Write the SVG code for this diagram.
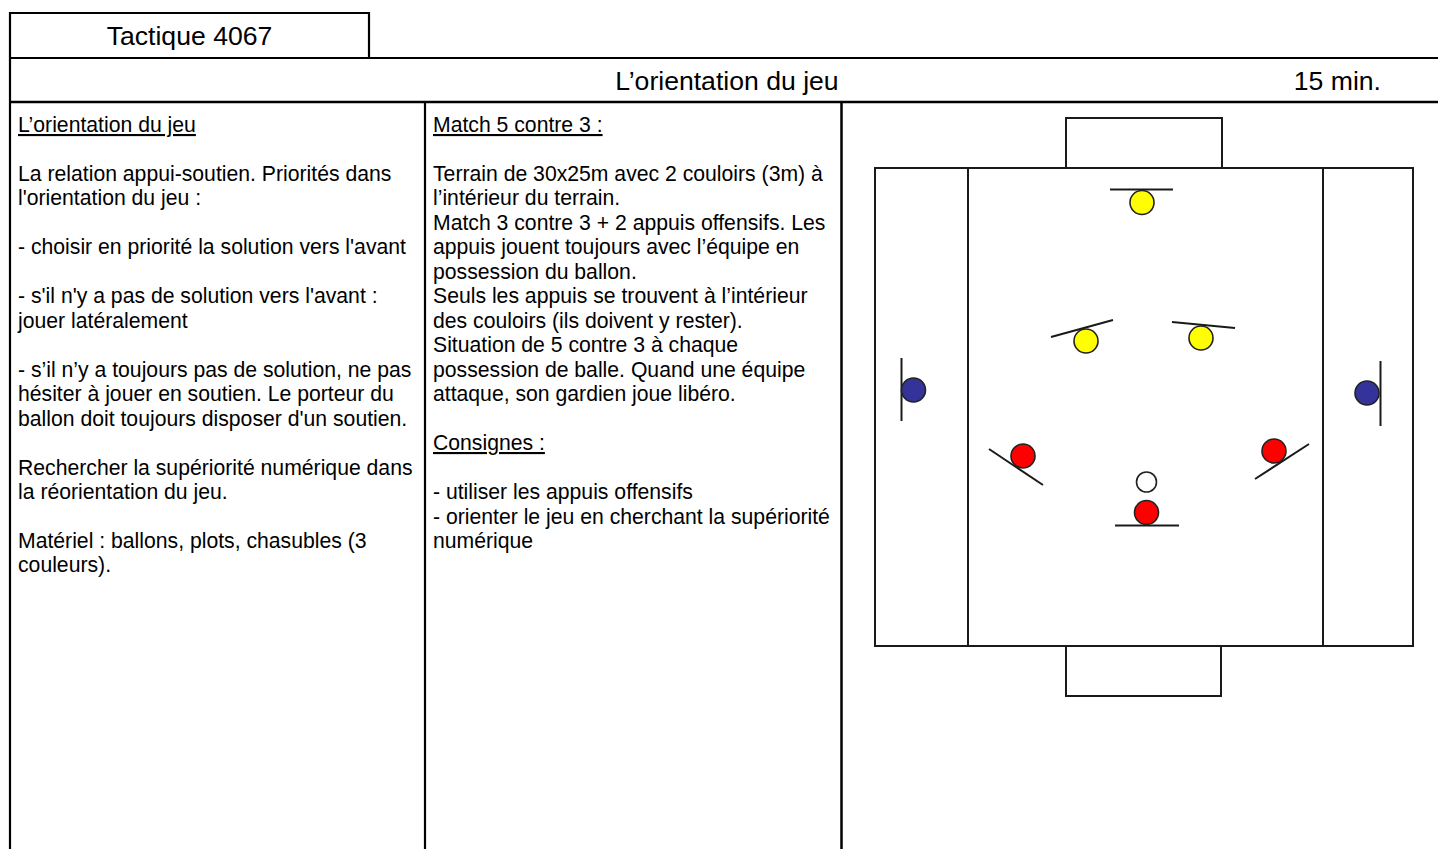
<svg xmlns="http://www.w3.org/2000/svg" width="1438" height="849" viewBox="0 0 1438 849">
<style>
.frame{stroke:#000;stroke-width:2.2;fill:none}
.fl{stroke:#1a1a1a;stroke-width:2;fill:none}
.h{font-family:"Liberation Sans",Arial,sans-serif;font-size:26.6px;fill:#000}
.t{font-family:"Liberation Sans",Arial,sans-serif;font-size:21.2px;fill:#000}
.u{text-decoration:underline}
.pl{stroke:#1a1a1a;stroke-width:2}
.ball{stroke:#222;stroke-width:1.6}
.y{fill:#ffff00}.r{fill:#ff0000}.b{fill:#333399}.w{fill:#ffffff}
</style>
<rect width="1438" height="849" fill="#fff"/>
<g id="frame">
<line class="frame" x1="10" y1="12" x2="10" y2="849"/>
<line class="frame" x1="9" y1="13" x2="369" y2="13"/>
<line class="frame" x1="369" y1="12" x2="369" y2="58"/>
<line class="frame" x1="9" y1="58" x2="1438" y2="58"/>
<line class="frame" x1="9" y1="102" x2="1438" y2="102" style="stroke-width:2.6"/>
<line class="frame" x1="425" y1="102" x2="425" y2="849"/>
<line class="frame" x1="841.5" y1="102" x2="841.5" y2="849" style="stroke-width:2.5"/>
</g>
<g id="header">
<text class="h" x="189.5" y="45" text-anchor="middle">Tactique 4067</text>
<text class="h" x="727" y="90" text-anchor="middle">L’orientation du jeu</text>
<text class="h" x="1381" y="90" text-anchor="end">15 min.</text>
</g>
<g id="col-left">
<text class="t u" x="18" y="132">L’orientation du jeu</text>
<text class="t" x="18" y="181">La relation appui-soutien. Priorités dans</text>
<text class="t" x="18" y="205">l'orientation du jeu :</text>
<text class="t" x="18" y="254">- choisir en priorité la solution vers l'avant</text>
<text class="t" x="18" y="303">- s'il n'y a pas de solution vers l'avant :</text>
<text class="t" x="18" y="327.5">jouer latéralement</text>
<text class="t" x="18" y="376.5">- s’il n’y a toujours pas de solution, ne pas</text>
<text class="t" x="18" y="401">hésiter à jouer en soutien. Le porteur du</text>
<text class="t" x="18" y="425.5">ballon doit toujours disposer d'un soutien.</text>
<text class="t" x="18" y="474.5">Rechercher la supériorité numérique dans</text>
<text class="t" x="18" y="499">la réorientation du jeu.</text>
<text class="t" x="18" y="548">Matériel : ballons, plots, chasubles (3</text>
<text class="t" x="18" y="572">couleurs).</text>
</g>
<g id="col-middle">
<text class="t u" x="433" y="132">Match 5 contre 3 :</text>
<text class="t" x="433" y="181">Terrain de 30x25m avec 2 couloirs (3m) à</text>
<text class="t" x="433" y="205">l’intérieur du terrain.</text>
<text class="t" x="433" y="229.5">Match 3 contre 3 + 2 appuis offensifs. Les</text>
<text class="t" x="433" y="254">appuis jouent toujours avec l’équipe en</text>
<text class="t" x="433" y="278.5">possession du ballon.</text>
<text class="t" x="433" y="303">Seuls les appuis se trouvent à l’intérieur</text>
<text class="t" x="433" y="327.5">des couloirs (ils doivent y rester).</text>
<text class="t" x="433" y="352">Situation de 5 contre 3 à chaque</text>
<text class="t" x="433" y="376.5">possession de balle. Quand une équipe</text>
<text class="t" x="433" y="401">attaque, son gardien joue libéro.</text>
<text class="t u" x="433" y="450">Consignes :</text>
<text class="t" x="433" y="499">- utiliser les appuis offensifs</text>
<text class="t" x="433" y="523.5">- orienter le jeu en cherchant la supériorité</text>
<text class="t" x="433" y="548">numérique</text>
</g>
<g id="field">
<rect class="fl" x="875" y="168" width="538" height="478"/>
<line class="fl" x1="968" y1="168" x2="968" y2="646"/>
<line class="fl" x1="1323" y1="168" x2="1323" y2="646"/>
<polyline class="fl" points="1066,168 1066,118 1222,118 1222,168"/>
<polyline class="fl" points="1066,646 1066,696 1221,696 1221,646"/>
</g>
<g id="players">
<g id="yellow-top"><line class="pl" x1="1110" y1="189.5" x2="1173" y2="189.5"/><circle class="ball y" cx="1142" cy="202.5" r="12"/></g>
<g id="yellow-left"><line class="pl" x1="1051" y1="337" x2="1113" y2="320"/><circle class="ball y" cx="1086" cy="341" r="12"/></g>
<g id="yellow-right"><line class="pl" x1="1172" y1="322" x2="1235" y2="328"/><circle class="ball y" cx="1201" cy="338" r="12"/></g>
<g id="blue-left"><line class="pl" x1="901.5" y1="358" x2="901.5" y2="421"/><circle class="ball b" cx="913.5" cy="390" r="12"/></g>
<g id="blue-right"><line class="pl" x1="1380.5" y1="361" x2="1380.5" y2="426"/><circle class="ball b" cx="1367" cy="393" r="12"/></g>
<g id="red-left"><line class="pl" x1="989" y1="449" x2="1043" y2="485"/><circle class="ball r" cx="1023" cy="456" r="12"/></g>
<g id="red-right"><line class="pl" x1="1255" y1="479" x2="1309" y2="444"/><circle class="ball r" cx="1274" cy="451" r="12"/></g>
<g id="ball"><circle class="ball w" cx="1146.5" cy="482" r="10"/></g>
<g id="red-bottom"><line class="pl" x1="1115" y1="525.5" x2="1179" y2="525.5"/><circle class="ball r" cx="1146.5" cy="512.5" r="12"/></g>
</g>
</svg>
